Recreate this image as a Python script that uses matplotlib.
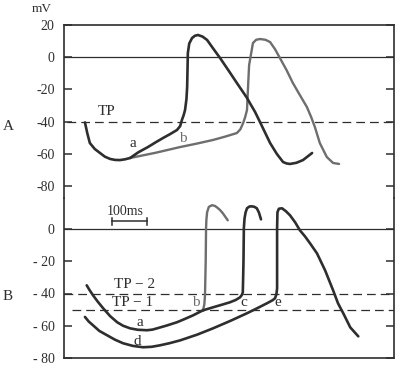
import matplotlib
matplotlib.use("Agg")
import matplotlib.pyplot as plt

plt.rcParams['font.family'] = ['Liberation Serif', 'DejaVu Serif']

# ---------------- data (time in ms, membrane potential in mV) ----------------
# Panel A: shared descent, then two pacemaker slopes a (steep) and b (shallow)
a_common_t = [59, 66, 73, 87, 102, 116, 131, 145, 159, 174, 188]
a_common_v = [-40.5, -47.5, -53.3, -57.0, -59.5, -61.8, -63.2, -63.8, -63.9, -63.4, -62.6]

a_curve_t = [188, 212, 239, 260, 282, 302, 322, 331, 336, 341, 345, 349, 351, 353,
             357, 365, 373, 382, 395, 408, 425, 445, 470, 493, 522, 530, 545, 559,
             574, 588, 607, 625, 635, 645, 663, 682, 708]
a_curve_v = [-62.6, -59.0, -55.8, -53.0, -50.2, -47.8, -45.2, -42.8, -39.0, -36.0,
             -32.8, -26.0, -18.5, 2.6, 8.5, 11.9, 13.3, 13.8, 12.8, 10.7, 5.5, -0.5,
             -8.5, -16.0, -25.3, -28.4, -34.0, -40.2, -47.0, -53.3, -60.0, -65.1,
             -66.0, -66.3, -65.6, -63.9, -59.5]

b_curve_t = [188, 260, 331, 380, 425, 460, 493, 503, 511, 517, 522, 525, 528, 534,
             539, 548, 559, 575, 588, 602, 616, 635, 653, 673, 693, 705, 716, 730,
             750, 768, 785]
b_curve_v = [-62.6, -59.4, -55.8, -53.6, -51.4, -49.3, -47.1, -44.8, -40.9, -37.0,
             -32.8, -18.5, -5.0, 2.6, 8.8, 10.8, 11.3, 10.8, 9.4, 5.0, -0.5, -8.0,
             -16.0, -23.5, -30.9, -37.0, -43.4, -53.3, -62.0, -65.7, -66.3]

tp_a = -40

# Panel B
ba_t = [64, 72, 82, 96, 111, 131, 151, 168, 188, 210, 236, 252, 265, 292, 322,
        345, 368, 396]
ba_v = [-34.9, -37.8, -41.1, -45.2, -49.2, -54.1, -57.9, -60.1, -61.7, -62.6,
        -62.9, -62.5, -61.7, -60.0, -57.9, -55.8, -53.6, -50.5]

bb_ap_t = [396, 400, 402, 404, 405, 406, 408, 413, 422, 430, 436, 445, 453, 467]
bb_ap_v = [-50.5, -47.0, -41.1, -20.0, 0.6, 6.0, 10.6, 14.0, 15.0, 14.6, 13.7,
           12.0, 10.0, 5.6]

bc_t = [396, 425, 450, 473, 490, 502, 507, 510, 511, 512, 513, 515, 518, 522, 529,
        536, 543, 550, 556, 562]
bc_v = [-50.5, -48.6, -47.0, -45.5, -44.0, -42.4, -41.0, -39.3, -30.0, -19.3, 0.6,
        6.9, 10.5, 13.1, 14.2, 14.3, 14.0, 13.1, 10.5, 6.2]

bd_t = [59, 70, 82, 100, 122, 145, 168, 195, 225, 250, 273, 300, 331, 380, 425,
        475, 522, 550, 579, 595, 602, 606, 608, 608, 609, 613, 622, 633, 645, 660,
        673, 688, 702, 722, 745, 768, 782, 797, 817, 840]
bd_v = [-54.6, -57.5, -59.8, -63.3, -66.0, -68.8, -71.0, -72.6, -73.5, -73.2,
        -72.3, -71.0, -69.2, -65.6, -61.7, -57.0, -52.3, -49.3, -46.1, -44.2,
        -43.0, -40.5, -36.8, 0.6, 10.6, 12.8, 13.1, 11.3, 8.7, 4.2, -0.6, -4.5,
        -8.7, -15.0, -25.5, -38.0, -46.1, -52.3, -61.1, -66.7]

tp2 = -40
tp1 = -50

a_ticks = [20, 0, -20, -40, -60, -80]
a_ticklabels = ['20', '0', '-20', '-40', '-60', '-80']
b_ticks = [0, -20, -40, -60, -80]
b_ticklabels = ['0', '- 20', '- 40', '- 60', '- 80']

scalebar_start = 137
scalebar_len = 100
scalebar_v = 5.0

# ---------------- layout ----------------
W, H = 400, 372
fig = plt.figure(figsize=(4.0, 3.72), dpi=100)
left = 64.3 / W
right = 394.3 / W
top_a = 1 - 25 / H
split = 1 - 198 / H
bot_b = 1 - 357.7 / H

ax_a = fig.add_axes([left, split, right - left, top_a - split])
ax_b = fig.add_axes([left, bot_b, right - left, split - bot_b])

XMAX = (394.3 - 64.3) / 0.35
col = '#2e2e2e'
gray = '#6e6e6e'
lw = 1.9

for ax in (ax_a, ax_b):
    ax.set_xlim(0, XMAX)
    ax.set_xticks([])
    for s in ax.spines.values():
        s.set_linewidth(1.2)
        s.set_color(col)
    ax.tick_params(axis='y', direction='in', length=6, width=1.1, color=col,
                   labelsize=10, pad=7, right=True, labelcolor=col)
    ax.set_facecolor('none')

ax_a.set_ylim(20 - (198 - 25) / 1.61, 20)
ax_b.set_ylim(-80, (229.3 - 198) / 1.605)
ax_a.spines['bottom'].set_visible(False)
ax_b.spines['top'].set_visible(False)

ax_a.set_yticks(a_ticks)
ax_a.set_yticklabels(a_ticklabels)
ax_b.set_yticks(b_ticks)
ax_b.set_yticklabels(b_ticklabels)

# zero lines
ax_a.axhline(0, color=col, lw=0.9)
ax_b.axhline(0, color=col, lw=0.9)

# threshold dashed lines
ax_a.plot([8, XMAX], [tp_a, tp_a], color=col, lw=0.9, dashes=(7, 4))
ax_b.plot([0, XMAX], [tp2, tp2], color=col, lw=0.9, dashes=(7, 4))
ax_b.plot([22, XMAX], [tp1, tp1], color=col, lw=0.9, dashes=(7, 4))

style = dict(solid_capstyle='round', solid_joinstyle='round')
# Panel A curves
ax_a.plot(a_common_t, a_common_v, color=col, lw=lw, **style)
ax_a.plot(b_curve_t, b_curve_v, color=gray, lw=lw * 0.9, **style)
ax_a.plot(a_curve_t, a_curve_v, color=col, lw=lw, **style)

# Panel B curves
ax_b.plot(ba_t, ba_v, color=col, lw=lw, **style)
ax_b.plot(bb_ap_t, bb_ap_v, color=gray, lw=lw * 0.9, **style)
ax_b.plot(bc_t, bc_v, color=col, lw=lw, **style)
ax_b.plot(bd_t, bd_v, color=col, lw=lw, **style)

# scale bar
sb_x = [scalebar_start, scalebar_start + scalebar_len]
ax_b.plot(sb_x, [scalebar_v, scalebar_v], color=col, lw=1.1)
for x in sb_x:
    ax_b.plot([x, x], [scalebar_v - 2.3, scalebar_v + 2.3], color=col, lw=1.1)
ax_b.text(sum(sb_x) / 2 - 12, scalebar_v + 5.8, '100ms', ha='center', va='center',
          fontsize=10, color=col)

# labels
fs = 11
ax_a.text(122, -34.0, 'TP', ha='center', va='center', fontsize=fs, color=col)
ax_a.text(196, -53.3, 'a', ha='center', va='center', fontsize=fs, color=col)
ax_a.text(339, -50.2, 'b', ha='center', va='center', fontsize=fs, color=gray)

ax_b.text(202, -34.1, 'TP − 2', ha='center', va='center', fontsize=fs, color=col)
ax_b.text(196, -45.5, 'TP − 1', ha='center', va='center', fontsize=fs, color=col)
ax_b.text(376, -45.5, 'b', ha='center', va='center', fontsize=fs, color=gray)
ax_b.text(513, -45.5, 'c', ha='center', va='center', fontsize=fs, color=col)
ax_b.text(611, -45.5, 'e', ha='center', va='center', fontsize=fs, color=col)
ax_b.text(216, -57.8, 'a', ha='center', va='center', fontsize=fs, color=col)
ax_b.text(208, -69.6, 'd', ha='center', va='center', fontsize=fs, color=col)

fig.text(42 / W, 1 - 9 / H, 'mV', ha='center', va='center', fontsize=9.5, color=col)
fig.text(8.5 / W, 1 - 127 / H, 'A', ha='center', va='center', fontsize=11, color=col)
fig.text(8 / W, 1 - 296 / H, 'B', ha='center', va='center', fontsize=11, color=col)

fig.savefig('out.png', dpi=100)
